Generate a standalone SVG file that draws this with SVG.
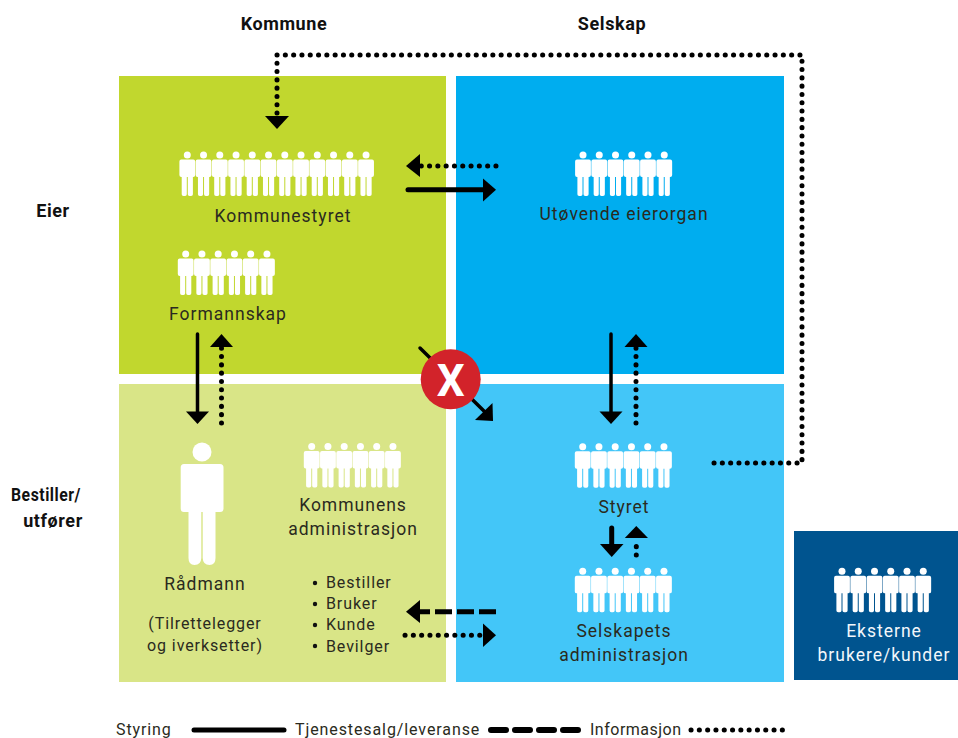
<svg xmlns="http://www.w3.org/2000/svg" xmlns:xlink="http://www.w3.org/1999/xlink" width="958" height="738" viewBox="0 0 958 738">
<style>
text{font-family:Roboto,"Liberation Sans",sans-serif;font-size:17.5px;fill:#2a2a20;text-anchor:middle;letter-spacing:1px}
.h{font-weight:700;font-size:18px;fill:#111;letter-spacing:.6px}
.s{font-size:16px;letter-spacing:.9px}
.w{fill:#f2f7fb}
.st{fill:none;stroke:#000;stroke-width:5;stroke-linecap:round}
.th{stroke-width:3.5}
.dash{stroke-dasharray:17 5;stroke-linecap:butt}
.dot{stroke-width:5;stroke-dasharray:.1 8.200}
.hd{fill:#000}
</style>
<defs>
<g id="p"><circle cx="0" cy="0" r="3.500" fill="#fff"/><path d="M-6 4.500H6Q7.900 4.500 7.900 6.400V20.100Q7.900 22 6 22H5.600V39.200Q5.600 41 3.800 41H2.200Q.5 41 .5 39.200V22H-.5V39.200Q-.5 41-2.200 41H-3.800Q-5.600 41-5.600 39.200V22H-6Q-7.900 22-7.900 20.100V6.400Q-7.900 4.500-6 4.500Z" fill="#fff"/></g>
<g id="p6"><use xlink:href="#p" x="0"/><use xlink:href="#p" x="16.250"/><use xlink:href="#p" x="32.500"/><use xlink:href="#p" x="48.750"/><use xlink:href="#p" x="65"/><use xlink:href="#p" x="81.250"/></g>
</defs>

<g id="panels">
<rect x="119" y="76" width="327" height="298" fill="#C1D72E"/>
<rect x="456" y="76" width="328" height="298" fill="#00ADEF"/>
<rect x="119" y="384" width="327" height="298" fill="#D9E587"/>
<rect x="456" y="384" width="328" height="298" fill="#43C6F8"/>
<rect x="794" y="531" width="164" height="149" fill="#00548F"/>
</g>

<g id="headers">
<text class="h" x="284" y="30">Kommune</text>
<text class="h" x="612" y="30">Selskap</text>
<text class="h" x="53" y="217">Eier</text>
<text class="h" x="46" y="501" textLength="70" lengthAdjust="spacingAndGlyphs">Bestiller/</text>
<text class="h" x="53" y="527">utfører</text>
</g>

<g id="connectors">
<path class="st dot" d="M714 463H802V55H277V114"/>
<polygon class="hd" points="265,116 289,116 277,129"/>
<path class="st dot" d="M496 166H421"/>
<polygon class="hd" points="406,166 420,154 420,177"/>
<path class="st" d="M408 189.700H484"/>
<polygon class="hd" points="496,189.700 483,178.500 483,201.500"/>
<path class="st th" d="M197.500 334V414"/>
<polygon class="hd" points="186,411.500 209,411.500 197.500,424"/>
<path class="st dot" d="M221.500 423V348"/>
<polygon class="hd" points="221.500,334 210,347 233,347"/>
<path class="st th" d="M611 334V414"/>
<polygon class="hd" points="599.500,411.500 622.500,411.500 611,424"/>
<path class="st dot" d="M636 423V348"/>
<polygon class="hd" points="636,334 624.500,347 647.500,347"/>
<path class="st" d="M611.700 528V546"/>
<polygon class="hd" points="600,544 623.500,544 611.700,557"/>
<path class="st dot" d="M636.300 555V544"/>
<polygon class="hd" points="636.300,526 624.800,538 648,538"/>
<path class="st th" d="M420 348L488 415"/>
<polygon class="hd" points="475,420 493,421 492.500,403"/>
<path class="st dash" d="M496 611.700H418"/>
<polygon class="hd" points="406,611.700 420,600 420,623"/>
<path class="st dot" d="M405 635.300H482"/>
<polygon class="hd" points="496,635.300 483,623.500 483,647"/>
</g>

<g id="kommunestyret">
<use xlink:href="#p6" x="187.300" y="155"/><use xlink:href="#p6" x="284.800" y="155"/>
<text x="283" y="221.500">Kommunestyret</text>
</g>
<g id="formannskap">
<use xlink:href="#p6" x="185.700" y="254"/>
<text x="228" y="319.500">Formannskap</text>
</g>
<g id="utovende-eierorgan">
<use xlink:href="#p6" x="583" y="155"/>
<text x="624" y="220">Utøvende eierorgan</text>
</g>
<g id="radmann">
<circle cx="202" cy="452" r="9.500" fill="#fff"/>
<path d="M184 464H220Q223.500 464 223.500 467.500V508.500Q223.500 512 220 512H215.500V558Q215.500 565 209.500 565Q203 565 202.700 558V512H201.300V558Q201 565 194.500 565Q188.500 565 188.500 558V512H184Q180.700 512 180.700 508.500V467.500Q180.700 464 184 464Z" fill="#fff"/>
<text x="205" y="590">Rådmann</text>
<text class="s" x="205" y="629">(Tilrettelegger</text>
<text class="s" x="205" y="651">og iverksetter)</text>
</g>
<g id="kommunens-administrasjon">
<use xlink:href="#p6" x="311.700" y="446.500"/>
<text x="353" y="511">Kommunens</text>
<text x="353" y="535">administrasjon</text>
</g>
<g id="roller">
<circle cx="315" cy="583" r="2.200" fill="#111"/><text class="s" x="326" y="588" style="text-anchor:start">Bestiller</text>
<circle cx="315" cy="604" r="2.200" fill="#111"/><text class="s" x="326" y="609" style="text-anchor:start">Bruker</text>
<circle cx="315" cy="625" r="2.200" fill="#111"/><text class="s" x="326" y="630" style="text-anchor:start">Kunde</text>
<circle cx="315" cy="646" r="2.200" fill="#111"/><text class="s" x="326" y="652" style="text-anchor:start">Bevilger</text>
</g>
<g id="styret">
<use xlink:href="#p6" x="582.700" y="446.700"/>
<text x="624" y="513">Styret</text>
</g>
<g id="selskapets-administrasjon">
<use xlink:href="#p6" x="582.700" y="571.300"/>
<text x="624" y="637">Selskapets</text>
<text x="624" y="661">administrasjon</text>
</g>
<g id="eksterne">
<use xlink:href="#p6" x="842" y="571.300"/>
<text class="w" x="884" y="637">Eksterne</text>
<text class="w" x="884" y="661">brukere/kunder</text>
</g>
<g id="x-mark">
<circle cx="450.700" cy="379.300" r="30" fill="#D2232A"/>
<text x="450.700" y="396" style="font-size:44px;font-weight:700;fill:#fff;letter-spacing:0">X</text>
</g>
<g id="legend">
<text class="s" x="116" y="735" style="text-anchor:start">Styring</text>
<path class="st" d="M194 730H284"/>
<text class="s" x="295" y="735" style="text-anchor:start">Tjenestesalg/leveranse</text>
<path class="st" d="M491 730H578" style="stroke-width:6;stroke-dasharray:15 9"/>
<text class="s" x="590" y="735" style="text-anchor:start;letter-spacing:.5px">Informasjon</text>
<path class="st dot" d="M691 730H785"/>
</g>
</svg>
